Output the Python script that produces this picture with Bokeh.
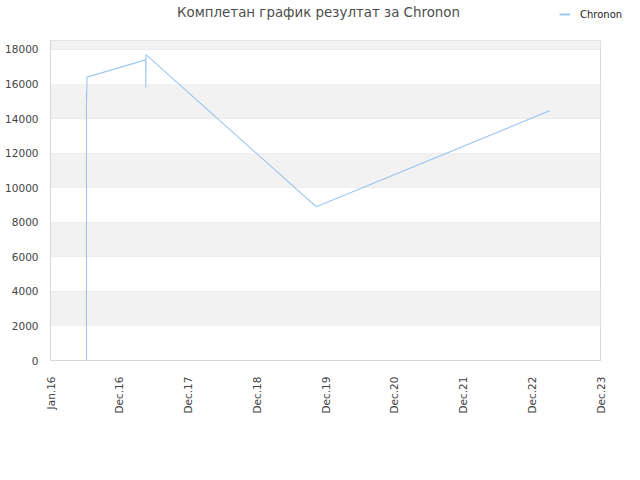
import datetime as dt
from bokeh.plotting import figure
from bokeh.models import (Range1d, FixedTicker, DatetimeTickFormatter, BoxAnnotation,
                          Legend, LegendItem, Label)
from bokeh.embed import file_html
from bokeh.resources import INLINE

# ---- data ----
series_name = "Chronon"
dates = ["2016-07-10", "2016-07-10", "2016-07-11", "2016-07-13",
         "2017-05-20", "2017-05-21", "2017-05-22", "2019-11-12", "2023-04-03"]
values = [0, 15500, 15200, 16400, 17400, 15800, 17700, 8900, 14450]
y_ticks = [0, 2000, 4000, 6000, 8000, 10000, 12000, 14000, 16000, 18000]
x_tick_labels = ["Jan.16", "Dec.16", "Dec.17", "Dec.18", "Dec.19",
                 "Dec.20", "Dec.21", "Dec.22", "Dec.23"]
title_text = "Комплетан график резултат за Chronon"

start = dt.datetime(2016, 1, 1)
tick_dates = [start + dt.timedelta(days=365 * i) for i in range(len(x_tick_labels))]
xs = [dt.datetime.strptime(d, "%Y-%m-%d") for d in dates]

def ms(d):
    return (d - dt.datetime(1970, 1, 1)).total_seconds() * 1000.0

FONT = "DejaVu Sans"
LINE_COLOR = "#7cb5ec"
LINE_ALPHA = 0.75
LINE_WIDTH = 1.1

# ---- header (title + legend) ----
W = 624
HEAD_H = 39
head = figure(width=W, height=HEAD_H, output_backend="svg", toolbar_location=None,
              x_range=Range1d(0, W), y_range=Range1d(0, HEAD_H),
              min_border=0, x_axis_location=None, y_axis_location=None)
head.grid.visible = False
head.outline_line_color = None
head.background_fill_color = None
head.border_fill_color = "white"
head.add_layout(Label(x=318, y=HEAD_H - 12, x_units="screen", y_units="screen",
                      text=title_text, text_align="center", text_baseline="middle",
                      text_font=FONT, text_font_size="13.4px", text_color="#4d4d4d"))
# legend proxy renderer (kept outside the visible header range)
proxy = head.line(x=[-50, -40], y=[-50, -50], line_color=LINE_COLOR,
                  line_width=2, line_alpha=LINE_ALPHA)
legend = Legend(items=[LegendItem(label=series_name, renderers=[proxy])],
                location=(559, HEAD_H - 20), orientation="horizontal",
                glyph_width=11, glyph_height=12, label_height=12,
                label_standoff=10, padding=0, margin=0, spacing=0,
                border_line_color=None, background_fill_alpha=0.0,
                label_text_font=FONT, label_text_font_size="10px",
                label_text_color="#222222")
head.add_layout(legend, "center")

# ---- main chart ----
p = figure(width=W, height=464 - HEAD_H, x_axis_type="datetime",
           output_backend="svg", toolbar_location=None,
           x_range=Range1d(ms(tick_dates[0]), ms(tick_dates[-1])),
           y_range=Range1d(0, 18520),
           min_border_left=50, min_border_right=24,
           min_border_top=1, min_border_bottom=104)

for i in range(1, len(y_ticks), 2):
    p.add_layout(BoxAnnotation(bottom=y_ticks[i], top=y_ticks[i] + 2000,
                               fill_color="#f2f2f2", fill_alpha=1.0,
                               line_color=None, level="underlay"))

p.line(xs, values, line_color=LINE_COLOR, line_width=LINE_WIDTH, line_alpha=LINE_ALPHA)

p.xaxis.ticker = FixedTicker(ticks=[ms(d) for d in tick_dates])
fmt = "%b.%y"
p.xaxis.formatter = DatetimeTickFormatter(
    milliseconds=fmt, seconds=fmt, minsec=fmt, minutes=fmt, hourmin=fmt,
    hours=fmt, days=fmt, months=fmt, years=fmt)
p.xaxis.major_label_orientation = 3.14159265 / 2
p.yaxis.ticker = FixedTicker(ticks=y_ticks)

for ax in (p.xaxis, p.yaxis):
    ax.major_tick_line_color = None
    ax.minor_tick_line_color = None
    ax.axis_line_color = "#d8d8d8"
    ax.major_label_text_font = FONT
    ax.major_label_text_font_size = "10.5px"
    ax.major_label_text_color = "#444444"
p.yaxis.major_label_standoff = 6
p.xaxis.major_label_standoff = 10

p.xgrid.grid_line_color = None
p.ygrid.grid_line_color = "#e2e2e2"
p.outline_line_color = "#d8d8d8"
p.background_fill_color = "white"

open("out.html", "w").write(file_html([head, p], INLINE))
